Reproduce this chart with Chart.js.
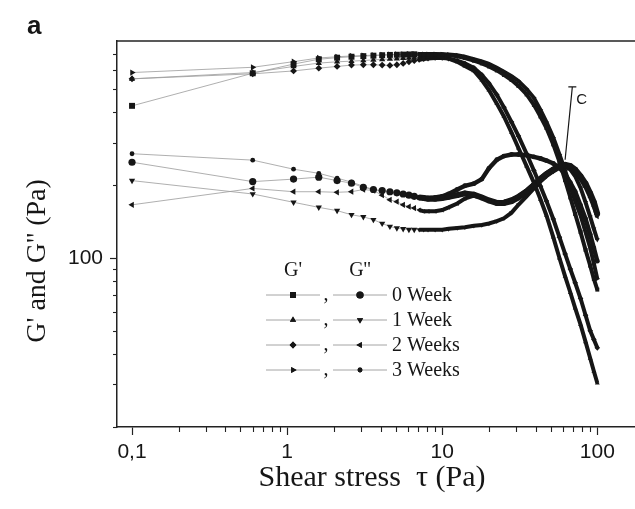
<!DOCTYPE html>
<html>
<head>
<meta charset="utf-8">
<script src="https://cdn.jsdelivr.net/npm/chart.js@4.4.1/dist/chart.umd.min.js"></script>
<style>
  html, body { margin: 0; padding: 0; background: #fff; overflow: hidden; }
  #wrap { width: 660px; height: 509px; }
</style>
</head>
<body>
<div id="wrap"><canvas id="rheo-chart" width="660" height="509"></canvas></div>
<script>
// shear stress steps (Pa), shared by every curve
const stressPa = [0.1, 0.6, 1.1, 1.6, 2.1, 2.6, 3.1, 3.6, 4.1, 4.6, 5.1, 5.6, 6.1, 6.6, 7.1, 7.6, 8.1,
  9, 10, 11, 12.5, 14, 16, 18, 20, 22.5, 25, 28, 31, 35, 39, 43, 47, 52, 57, 62, 67, 72, 78, 84, 90, 95, 100];

// G' (storage modulus, Pa)
const storage0Week = [426, 581, 634, 664, 674, 680, 684, 687, 690, 692, 693, 694, 695, 696, 696, 696, 696,
  695, 694, 690, 683, 672, 655, 638, 620, 597, 572, 545, 515, 475, 430, 385, 345, 295, 250, 210, 178, 152, 128, 108, 93, 82, 74];
const storage1Week = [551, 585, 620, 640, 648, 652, 656, 660, 663, 666, 668, 670, 672, 674, 676, 678, 680,
  682, 678, 668, 648, 622, 595, 545, 495, 435, 385, 330, 285, 240, 205, 175, 150, 122, 100, 84, 72, 62, 53, 45, 38.5, 34, 30.4];
const storage2Weeks = [551, 578, 594, 610, 620, 628, 630, 630, 628, 626, 630, 638, 648, 655, 660, 665, 668,
  672, 672, 668, 655, 638, 612, 572, 528, 473, 420, 365, 320, 270, 230, 198, 172, 145, 122, 104, 90, 79, 68, 58, 50, 46, 42.5];
const storage3Weeks = [585, 615, 649, 672, 680, 685, 688, 690, 692, 694, 695, 696, 697, 698, 698, 698, 698,
  698, 697, 695, 690, 680, 665, 650, 635, 612, 590, 565, 540, 500, 460, 410, 365, 315, 268, 230, 198, 172, 150, 128, 110, 95, 82];

// G'' (loss modulus, Pa)
const loss0Week = [249, 207, 212, 216, 209, 204, 196, 192, 190, 188, 186, 184, 182, 180, 178, 177, 176,
  176, 177, 179, 182, 185, 183, 178, 173, 169, 169, 172, 178, 188, 200, 212, 222, 232, 240, 243, 240, 232, 218, 203, 185, 170, 152];
const loss1Week = [209, 184, 170, 162, 157, 151, 148, 144, 139, 135, 133, 132, 131, 131, 131, 131, 131,
  131, 131, 132, 133, 134, 136, 137, 139, 142, 146, 154, 166, 180, 194, 207, 218, 228, 236, 239, 232, 218, 195, 170, 148, 132, 119];
const loss2Weeks = [166, 194, 188, 188, 187, 188, 192, 190, 182, 174, 171, 166, 163, 161, 158, 156, 156,
  156, 158, 162, 168, 176, 181, 178, 173, 170, 171, 175, 181, 191, 203, 215, 225, 234, 241, 244, 238, 228, 212, 196, 178, 163, 148];
const loss3Weeks = [270, 254, 233, 224, 214, 206, 198, 192, 189, 187, 185, 183, 181, 179, 178, 177, 177,
  178, 180, 184, 192, 199, 203, 212, 235, 255, 264, 268, 268, 266, 262, 258, 253, 246, 236, 222, 205, 188, 165, 145, 125, 110, 97];

const weekLabels = ['0 Week', '1 Week', '2 Weeks', '3 Weeks'];

const xMajorTicks = [0.1, 1, 10, 100];
const xTickLabels = ['0,1', '1', '10', '100'];
const xMinorTicks = [0.2, 0.3, 0.4, 0.5, 0.6, 0.7, 0.8, 0.9, 2, 3, 4, 5, 6, 7, 8, 9, 20, 30, 40, 50, 60, 70, 80, 90];
const yMajorTicks = [100];
const yTickLabels = ['100'];
const yMinorTicks = [20, 30, 40, 50, 60, 70, 80, 90, 200, 300, 400, 500, 600, 700];

// crossover point marked "C" and the end of its pointer line
const crossoverPoint = [62, 255];
const crossoverLabelAt = [69, 510];

const INK = '#161616';
const THIN = '#9a9a9a';
const denseFrom = 7.1;

const markerStyles = [
  { pointStyle: 'rect', radius: 4.2, rotation: 0, band: 4 },
  { pointStyle: 'triangle', radius: 3.6, rotation: 0, band: 4 },
  { pointStyle: 'rectRot', radius: 3.4, rotation: 0, band: 4 },
  { pointStyle: 'triangle', radius: 3.6, rotation: 90, band: 4 },
  { pointStyle: 'circle', radius: 3.6, rotation: 0, band: 6 },
  { pointStyle: 'triangle', radius: 3.6, rotation: 180, band: 4 },
  { pointStyle: 'triangle', radius: 3.6, rotation: 270, band: 4 },
  { pointStyle: 'circle', radius: 2.4, rotation: 0, band: 4.5 },
];

const series = [storage0Week, storage1Week, storage2Weeks, storage3Weeks, loss0Week, loss1Week, loss2Weeks, loss3Weeks];

const datasets = series.map((values, i) => {
  const m = markerStyles[i];
  return {
    label: (i < 4 ? "G' " : "G'' ") + weekLabels[i % 4],
    data: stressPa.map((x, k) => ({ x: x, y: values[k] })),
    borderColor: THIN,
    borderWidth: 0.8,
    pointStyle: m.pointStyle,
    pointRotation: m.rotation,
    pointRadius: (ctx) => (ctx.raw && ctx.raw.x >= denseFrom ? Math.min(m.radius, 2.8) : m.radius),
    pointBackgroundColor: INK,
    pointBorderColor: INK,
    pointBorderWidth: 0,
    segment: {
      borderWidth: (ctx) => (ctx.p0.parsed.x >= denseFrom ? m.band : 0.8),
      borderColor: (ctx) => (ctx.p0.parsed.x >= denseFrom ? INK : THIN),
    },
  };
});

const drawMarker = (ctx, style, x, y) => {
  if (Chart.helpers && Chart.helpers.drawPoint) {
    ctx.fillStyle = INK;
    ctx.strokeStyle = INK;
    Chart.helpers.drawPoint(ctx, { pointStyle: style.pointStyle, radius: style.radius, rotation: style.rotation, borderWidth: 0 }, x, y);
    ctx.fill();
  }
};

const decorations = {
  id: 'decorations',
  afterDraw(chart) {
    const { ctx, chartArea } = chart;
    const xs = chart.scales.x;
    const ys = chart.scales.y;
    ctx.save();

    // top frame
    ctx.strokeStyle = '#222';
    ctx.lineWidth = 1.5;
    ctx.beginPath();
    ctx.moveTo(chartArea.left, chartArea.top);
    ctx.lineTo(chartArea.right, chartArea.top);
    ctx.stroke();

    // minor ticks
    ctx.lineWidth = 1.1;
    xMinorTicks.forEach((v) => {
      const px = Math.round(xs.getPixelForValue(v)) + 0.5;
      ctx.beginPath();
      ctx.moveTo(px, chartArea.bottom);
      ctx.lineTo(px, chartArea.bottom + 5);
      ctx.stroke();
    });
    yMinorTicks.forEach((v) => {
      const py = Math.round(ys.getPixelForValue(v)) + 0.5;
      ctx.beginPath();
      ctx.moveTo(chartArea.left - 4, py);
      ctx.lineTo(chartArea.left, py);
      ctx.stroke();
    });

    // crossover pointer
    const cx = xs.getPixelForValue(crossoverPoint[0]);
    const cy = ys.getPixelForValue(crossoverPoint[1]);
    const lx = xs.getPixelForValue(crossoverLabelAt[0]);
    const ly = ys.getPixelForValue(crossoverLabelAt[1]);
    ctx.strokeStyle = INK;
    ctx.lineWidth = 1.2;
    ctx.beginPath();
    ctx.moveTo(cx, cy);
    ctx.lineTo(lx, ly);
    ctx.moveTo(lx - 4, ly);
    ctx.lineTo(lx + 4, ly);
    ctx.stroke();
    ctx.fillStyle = INK;
    ctx.font = '15px "Liberation Sans", Arial, sans-serif';
    ctx.textAlign = 'left';
    ctx.textBaseline = 'middle';
    ctx.fillText('C', lx + 4, ly + 13);

    // legend
    ctx.font = '20px "Liberation Serif", "Times New Roman", serif';
    ctx.textAlign = 'center';
    ctx.fillText("G'", 293, 271);
    ctx.fillText("G''", 360, 271);
    weekLabels.forEach((label, i) => {
      const ry = 295 + i * 25;
      ctx.strokeStyle = THIN;
      ctx.lineWidth = 0.9;
      ctx.beginPath();
      ctx.moveTo(266, ry);
      ctx.lineTo(320, ry);
      ctx.moveTo(333, ry);
      ctx.lineTo(387, ry);
      ctx.stroke();
      drawMarker(ctx, markerStyles[i], 293, ry);
      drawMarker(ctx, markerStyles[i + 4], 360, ry);
      ctx.fillStyle = INK;
      ctx.textAlign = 'center';
      ctx.fillText(',', 326, ry);
      ctx.textAlign = 'left';
      ctx.fillText(label, 392, ry + 1);
    });

    // axis titles
    ctx.fillStyle = INK;
    ctx.textAlign = 'center';
    ctx.font = '30px "Liberation Serif", "Times New Roman", serif';
    ctx.fillText('Shear stress  \u03c4 (Pa)', 372, 478);
    ctx.save();
    ctx.translate(38, 261);
    ctx.rotate(-Math.PI / 2);
    ctx.font = '28px "Liberation Serif", "Times New Roman", serif';
    ctx.fillText("G' and G'' (Pa)", 0, 0);
    ctx.restore();

    // panel letter
    ctx.textAlign = 'left';
    ctx.textBaseline = 'alphabetic';
    ctx.font = 'bold 26px "Liberation Sans", Arial, sans-serif';
    ctx.fillText('a', 27, 34);

    ctx.restore();
  },
};

const tickFont = { family: "'Liberation Sans', Arial, sans-serif", size: 21 };

new Chart(document.getElementById('rheo-chart'), {
  type: 'line',
  data: { datasets: datasets },
  options: {
    responsive: false,
    animation: false,
    layout: { padding: { left: 0, right: 16, top: 41, bottom: 0 } },
    plugins: {
      legend: { display: false },
      tooltip: { enabled: false },
    },
    scales: {
      x: {
        type: 'logarithmic',
        min: 0.08,
        max: 200,
        afterFit: (scale) => {
          scale.height = 82;
        },
        afterBuildTicks: (scale) => {
          scale.ticks = xMajorTicks.map((v) => ({ value: v }));
        },
        ticks: {
          autoSkip: false,
          maxRotation: 0,
          padding: 5,
          color: INK,
          font: tickFont,
          callback: (value, index) => xTickLabels[index],
        },
        grid: { drawOnChartArea: false, tickLength: 8, tickWidth: 1.2, tickColor: '#222' },
        border: { display: true, color: '#222', width: 1.5 },
      },
      y: {
        type: 'logarithmic',
        min: 20,
        max: 790,
        afterFit: (scale) => {
          scale.width = 117;
        },
        afterBuildTicks: (scale) => {
          scale.ticks = yMajorTicks.map((v) => ({ value: v }));
        },
        ticks: {
          autoSkip: false,
          padding: 7,
          color: INK,
          font: tickFont,
          callback: (value, index) => yTickLabels[index],
        },
        grid: { drawOnChartArea: false, tickLength: 7, tickWidth: 1.2, tickColor: '#222' },
        border: { display: true, color: '#222', width: 1.5 },
      },
    },
  },
  plugins: [decorations],
});
</script>
</body>
</html>
